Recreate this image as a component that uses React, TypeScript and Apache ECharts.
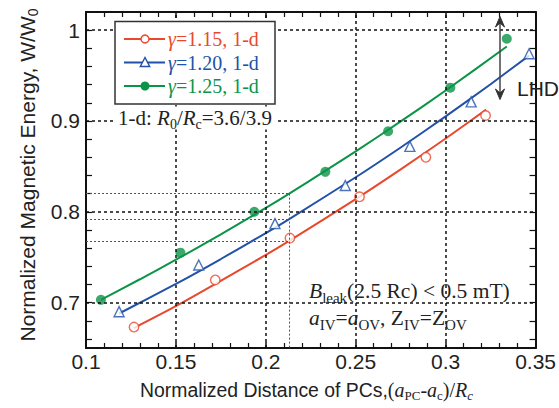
import React, { useEffect, useRef } from 'react';
import * as echarts from 'echarts';

const seriesNames = ['γ=1.15, 1-d', 'γ=1.20, 1-d', 'γ=1.25, 1-d'];
const seriesColors = ['#e8482c', '#2151a8', '#0b9447'];

const xMin = 0.1;
const xMax = 0.35;
const yMin = 0.65;
const yMax = 1.02;
const xInterval = 0.05;
const yLabelValues = [0.7, 0.8, 0.9, 1];
const yTickValues = [0.66, 0.68, 0.7, 0.72, 0.74, 0.76, 0.78, 0.8, 0.82, 0.84, 0.86, 0.88, 0.9, 0.92, 0.94, 0.96, 0.98, 1];
const xGridValues = [0.15, 0.2, 0.25, 0.3];
const yGridValues = [0.7, 0.8, 0.9, 1];
const guideX = 0.213;
const guideYValues = [0.82, 0.792, 0.768];

const red115Points = [[0.1267, 0.673], [0.1719, 0.725], [0.2134, 0.771], [0.2521, 0.8165], [0.289, 0.86], [0.3222, 0.906]];
const blue120Points = [[0.1184, 0.69], [0.1627, 0.7414], [0.2051, 0.787], [0.2442, 0.829], [0.2801, 0.872], [0.3142, 0.921], [0.3464, 0.974]];
const green125Points = [[0.1083, 0.703], [0.1525, 0.755], [0.1936, 0.8], [0.2331, 0.844], [0.268, 0.8887], [0.3026, 0.9367], [0.334, 0.9905]];

const red115Curve = [[0.1267, 0.672], [0.15, 0.696], [0.172, 0.7205], [0.2, 0.7525], [0.213, 0.768], [0.25, 0.814], [0.275, 0.8467], [0.3, 0.8807], [0.3225, 0.9125]];
const blue120Curve = [[0.1184, 0.688], [0.15, 0.7206], [0.175, 0.748], [0.2, 0.7766], [0.213, 0.792], [0.25, 0.838], [0.275, 0.8708], [0.3, 0.905], [0.325, 0.9405], [0.3464, 0.972]];
const green125Curve = [[0.1083, 0.703], [0.13, 0.7257], [0.152, 0.7494], [0.175, 0.775], [0.2, 0.8043], [0.213, 0.82], [0.233, 0.845], [0.25, 0.8665], [0.275, 0.8995], [0.3, 0.9335], [0.334, 0.982]];

const pointSets = [red115Points, blue120Points, green125Points];
const curveSets = [red115Curve, blue120Curve, green125Curve];

const SANS = 'Liberation Sans';
const SERIF = 'Liberation Serif';

export default function App() {
  const ref = useRef<HTMLDivElement>(null);

  useEffect(() => {
    if (!ref.current) return;
    const chart = echarts.init(ref.current, undefined, { renderer: 'svg' });

    const axisLineStyle = { color: '#111', width: 2 };
    const fmt = (v: number) => String(parseFloat(Number(v).toFixed(3)));

    const xAxisBase = {
      type: 'value',
      min: xMin,
      max: xMax,
      interval: xInterval,
      axisLine: { show: true, onZero: false, lineStyle: axisLineStyle },
      axisTick: { show: true, inside: true, length: 6, lineStyle: { color: '#111', width: 1.5 } },
      minorTick: { show: true, splitNumber: 5, length: 5, lineStyle: { color: '#111', width: 1.2 } },
      splitLine: { show: false },
      minorSplitLine: { show: false },
    };
    const yAxisBase = {
      type: 'value',
      min: yMin,
      max: yMax,
      axisLine: { show: true, onZero: false, lineStyle: axisLineStyle },
      axisTick: { show: true, inside: true, length: 6, customValues: yTickValues, lineStyle: { color: '#111', width: 1.2 } },
      splitLine: { show: false },
    };

    const markLineData: any[] = [];
    yGridValues.forEach((v) => markLineData.push({ yAxis: v, lineStyle: { color: '#111', type: [3, 3], width: 1.5 } }));
    xGridValues.forEach((v) => markLineData.push({ xAxis: v, lineStyle: { color: '#111', type: [3, 3], width: 1.5 } }));
    guideYValues.forEach((v) =>
      markLineData.push([
        { coord: [xMin, v], lineStyle: { color: '#555', type: [2, 2], width: 1 } },
        { coord: [guideX, v] },
      ])
    );
    markLineData.push([
      { coord: [guideX, guideYValues[0]], lineStyle: { color: '#555', type: [2, 2], width: 1 } },
      { coord: [guideX, yMin] },
    ]);

    const series: any[] = [
      {
        type: 'line',
        data: [],
        z: 1,
        markLine: {
          silent: true,
          symbol: ['none', 'none'],
          label: { show: false },
          animation: false,
          data: markLineData,
        },
      },
    ];
    curveSets.forEach((c, i) => {
      series.push({
        type: 'line',
        name: seriesNames[i] + ' fit',
        data: c,
        smooth: 0.2,
        showSymbol: false,
        z: 3,
        lineStyle: { color: seriesColors[i], width: 2 },
      });
    });
    const symbols = ['circle', 'triangle', 'circle'];
    const sizes = [9.5, 10, 10];
    pointSets.forEach((p, i) => {
      series.push({
        type: 'scatter',
        name: seriesNames[i],
        data: p,
        symbol: symbols[i],
        symbolSize: sizes[i],
        z: 4,
        itemStyle:
          i === 2
            ? { color: seriesColors[i] }
            : { color: '#fff', borderColor: seriesColors[i], borderWidth: 1.4 },
      });
    });

    // Legend drawn with graphic elements
    const lgX = 115, lgY = 21.5, lgW = 160, lgH = 82.5;
    const rowY = [39, 62.5, 86];
    const graphics: any[] = [
      {
        type: 'rect',
        z: 100,
        shape: { x: lgX, y: lgY, width: lgW, height: lgH },
        style: { fill: '#fff', stroke: '#333', lineWidth: 1.5 },
      },
    ];
    seriesNames.forEach((name, i) => {
      const y = rowY[i];
      graphics.push({
        type: 'line',
        z: 101,
        shape: { x1: 124, y1: y, x2: 165, y2: y },
        style: { stroke: seriesColors[i], lineWidth: 2 },
      });
      if (i === 0) {
        graphics.push({ type: 'circle', z: 102, shape: { cx: 145, cy: y, r: 4 }, style: { fill: '#fff', stroke: seriesColors[i], lineWidth: 1.4 } });
      } else if (i === 1) {
        graphics.push({ type: 'polygon', z: 102, shape: { points: [[145, y - 5], [140.3, y + 4], [149.7, y + 4]] }, style: { fill: '#fff', stroke: seriesColors[i], lineWidth: 1.4 } });
      } else {
        graphics.push({ type: 'circle', z: 102, shape: { cx: 145, cy: y, r: 4.5 }, style: { fill: seriesColors[i] } });
      }
      graphics.push({
        type: 'text',
        z: 102,
        style: {
          text: '{g|' + name.slice(0, 1) + '}' + name.slice(1),
          x: 168,
          y: y,
          verticalAlign: 'middle',
          fontSize: 20,
          fontFamily: SERIF,
          fill: seriesColors[i],
          rich: { g: { fontStyle: 'italic', fontSize: 20, fontFamily: SERIF, fill: seriesColors[i] } },
        },
      });
    });

    const serifRich = (color: string, size: number, sub: number, pad: number) => ({
      i: { fontStyle: 'italic', fontSize: size, fontFamily: SERIF, fill: color },
      n: { fontSize: size, fontFamily: SERIF, fill: color },
      s: { fontSize: sub, fontFamily: SERIF, fill: color, padding: [pad, 0, 0, 0] },
    });

    // 1-d annotation
    graphics.push({
      type: 'text',
      z: 50,
      style: {
        text: '{n|1-d: }{i|R}{s|0}{n|/}{i|R}{s|c}{n|=3.6/3.9}',
        x: 116,
        y: 118,
        verticalAlign: 'middle',
        fontSize: 21,
        fontFamily: SERIF,
        lineHeight: 23,
        fill: '#222',
        backgroundColor: '#fff',
        padding: [0, 3, 0, 2],
        rich: serifRich('#222', 21, 14, 12),
      },
    });

    // B_leak annotation
    graphics.push({
      type: 'text',
      z: 50,
      style: {
        text: '{i|B}{s|leak}{n|(2.5 Rc) < 0.5 mT)}',
        x: 309,
        y: 291,
        verticalAlign: 'middle',
        fontSize: 21.5,
        fontFamily: SERIF,
        lineHeight: 24,
        fill: '#222',
        rich: serifRich('#222', 21.5, 15, 13),
      },
    });
    graphics.push({
      type: 'text',
      z: 50,
      style: {
        text: '{i|a}{s|IV}{n|=}{i|a}{s|OV}{n|, Z}{s|IV}{n|=Z}{s|OV}',
        x: 309,
        y: 318,
        verticalAlign: 'middle',
        fontSize: 21.5,
        fontFamily: SERIF,
        lineHeight: 24,
        fill: '#222',
        rich: serifRich('#222', 21.5, 15, 13),
      },
    });

    // LHD arrow
    graphics.push({
      type: 'line',
      z: 50,
      shape: { x1: 500, y1: 20, x2: 500, y2: 96 },
      style: { stroke: '#444', lineWidth: 1.5 },
    });
    graphics.push({
      type: 'polygon',
      z: 51,
      shape: { points: [[500, 16.5], [504.5, 27], [500, 23], [495.5, 27]] },
      style: { fill: '#333', stroke: '#333', lineWidth: 1 },
    });
    graphics.push({
      type: 'polygon',
      z: 51,
      shape: { points: [[500, 99.5], [504.5, 89], [500, 93], [495.5, 89]] },
      style: { fill: '#333', stroke: '#333', lineWidth: 1 },
    });
    graphics.push({
      type: 'text',
      z: 51,
      style: { text: 'LHD', x: 517, y: 88, verticalAlign: 'middle', fontSize: 21, fontFamily: SANS, fill: '#222' },
    });

    // Axis titles
    graphics.push({
      type: 'text',
      z: 51,
      x: 27,
      y: 175,
      rotation: Math.PI / 2,
      style: {
        text: '{n|Normalized Magnetic Energy, W/W}{s|0}',
        x: 0,
        y: 0,
        align: 'center',
        verticalAlign: 'middle',
        fontSize: 21,
        fontFamily: SANS,
        lineHeight: 24,
        fill: '#222',
        rich: {
          n: { fontSize: 21, fontFamily: SANS, fill: '#222' },
          s: { fontSize: 14, fontFamily: SANS, fill: '#222', padding: [12, 0, 0, 0] },
        },
      },
    });
    graphics.push({
      type: 'text',
      z: 51,
      style: {
        text: '{n|Normalized Distance of PCs,}{p|(}{i|a}{s|PC}{p|-}{i|a}{s|c}{p|)/}{i|R}{si|c}',
        x: 140,
        y: 390,
        verticalAlign: 'middle',
        fontSize: 19.4,
        fontFamily: SANS,
        lineHeight: 23,
        fill: '#222',
        rich: {
          n: { fontSize: 19.4, fontFamily: SANS, fill: '#222' },
          p: { fontSize: 20, fontFamily: SERIF, fill: '#222' },
          i: { fontSize: 20, fontFamily: SERIF, fontStyle: 'italic', fill: '#222' },
          s: { fontSize: 13, fontFamily: SERIF, fill: '#222', padding: [11, 0, 0, 0] },
          si: { fontSize: 13, fontFamily: SERIF, fontStyle: 'italic', fill: '#222', padding: [11, 0, 0, 0] },
        },
      },
    });

    chart.setOption({
      animation: false,
      backgroundColor: '#fff',
      grid: { left: 86, right: 21, top: 12, bottom: 60, containLabel: false },
      xAxis: [
        {
          ...xAxisBase,
          position: 'bottom',
          axisLabel: { show: true, formatter: fmt, fontSize: 21, fontFamily: SANS, color: '#222', margin: 3, showMaxLabel: true, showMinLabel: true },
        },
        { ...xAxisBase, position: 'top', axisLabel: { show: false } },
      ],
      yAxis: [
        {
          ...yAxisBase,
          position: 'left',
          axisLabel: { show: true, customValues: yLabelValues, formatter: fmt, fontSize: 21, fontFamily: SANS, color: '#222', margin: 6 },
        },
        { ...yAxisBase, position: 'right', axisLabel: { show: false } },
      ],
      series,
      graphic: graphics,
    });

    return () => chart.dispose();
  }, []);

  return <div ref={ref} style={{ position: 'fixed', left: 0, top: 0, width: 559, height: 408 }} />;
}
